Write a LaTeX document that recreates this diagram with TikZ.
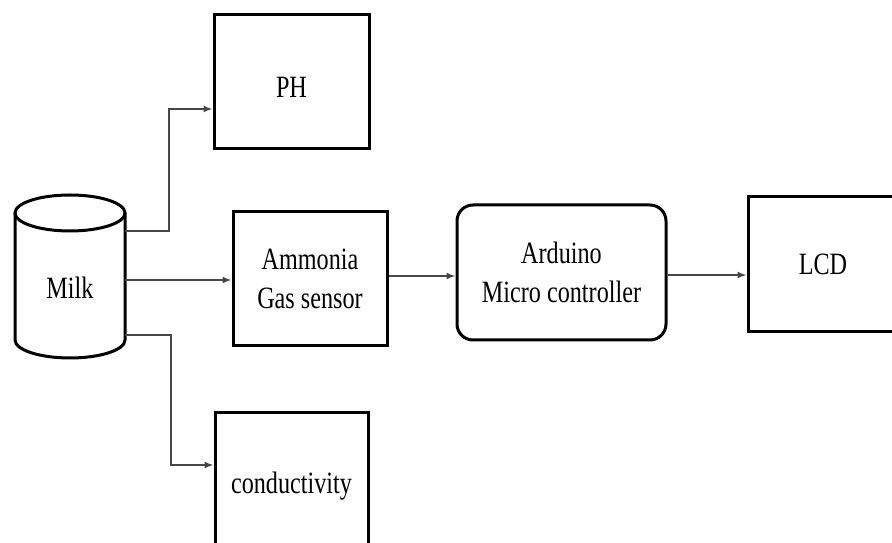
\documentclass[tikz,border=0pt]{standalone}
\usepackage{fontspec}
\setmainfont[FakeStretch=0.78]{Liberation Serif}
\usetikzlibrary{arrows.meta}
\begin{document}
\begin{tikzpicture}[x=1pt,y=1pt,
  blk/.style={draw=black,line width=3pt,inner sep=0pt,align=center,font=\fontsize{31}{39}\selectfont},
  conn/.style={draw=black!72,line width=1.6pt,-{Latex[length=9pt,width=7pt]}}]
\useasboundingbox (0,0) rectangle (892,543);
\clip (0,0) rectangle (892,543);
\fill[white] (0,0) rectangle (892,543);
% cylinder
\node[inner sep=0pt,minimum width=110pt,minimum height=163pt] (milk) at (70,266.5) {};
\node[font=\fontsize{31}{39}\selectfont] (milktext) at (70,255) {Milk};
\draw[line width=3pt] (15,330) -- (15,203) arc[start angle=180,end angle=360,x radius=55,y radius=18] -- (125,330);
\draw[line width=3pt] (70,330) ellipse[x radius=55,y radius=18];
% boxes
\node[blk,minimum width=155pt,minimum height=134pt] (ph) at (291.5,461) {};
\node[font=\fontsize{31}{39}\selectfont] (phtext) at (291.5,456) {PH};
\node[blk,minimum width=154pt,minimum height=134pt] (amm) at (310,264) {Ammonia\\Gas sensor};
\node[blk,rounded corners=16pt,minimum width=209pt,minimum height=135pt] (ard) at (561.5,270.5) {Arduino\\Micro controller};
\node[blk,minimum width=150pt,minimum height=135pt] (lcd) at (823,278.5) {LCD};
\node[blk,minimum width=153pt,minimum height=135pt] (cond) at (291.5,62.5) {};
\node[font=\fontsize{31}{39}\selectfont] (condtext) at (291.5,57) {conductivity};
% connectors
\coordinate (m1) at (125,312);
\coordinate (k1) at (169,434);
\coordinate (m2) at (125,263);
\coordinate (m3) at (125,208);
\coordinate (k3) at (171,78);
\draw[conn] (m1) -| (k1) -- (k1 -| ph.west);
\draw[conn] (m2) -- (m2 -| amm.west);
\draw[conn] (m3) -| (k3) -- (k3 -| cond.west);
\draw[conn] (amm.east |- 0,267) -- (ard.west |- 0,267);
\draw[conn] (ard.east |- 0,268) -- (lcd.west |- 0,268);
\end{tikzpicture}
\end{document}
